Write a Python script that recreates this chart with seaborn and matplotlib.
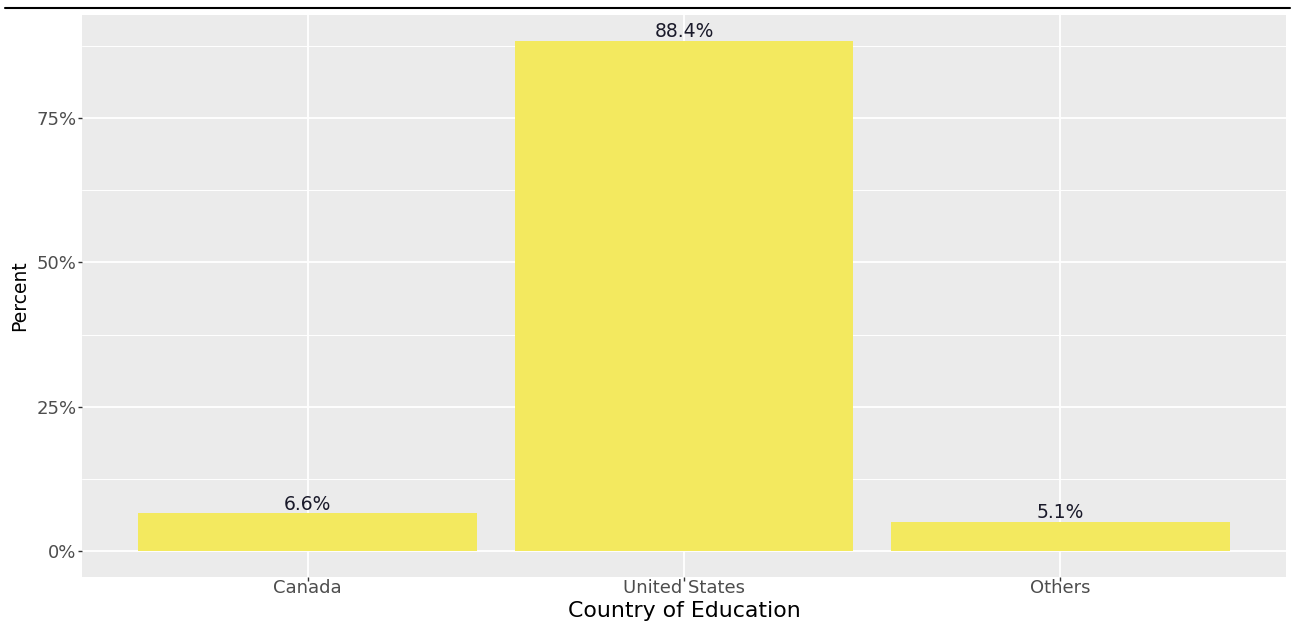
import matplotlib
matplotlib.use("Agg")
import matplotlib.pyplot as plt
import seaborn as sns
import pandas as pd
from matplotlib.lines import Line2D
from matplotlib.ticker import FixedLocator

categories = ["Canada", "United States", "Others"]
percents = [6.6, 88.4, 5.1]
labels = ["6.6%", "88.4%", "5.1%"]
yticks = [0, 25, 50, 75]
ytick_labels = ["0%", "25%", "50%", "75%"]
minor_yticks = [12.5, 37.5, 62.5, 87.5]

df = pd.DataFrame({"country": categories, "pct": percents})

sns.set_theme(style="darkgrid")
plt.rcParams['font.family'] = ['DejaVu Sans']

fig = plt.figure(figsize=(12.93, 6.25), dpi=100)
W, H = 1293, 625
ax = fig.add_axes([82 / W, 1 - 577 / H, (1286 - 82) / W, (577 - 15) / H])
ax.set_facecolor("#EBEBEB")

sns.barplot(data=df, x="country", y="pct", order=categories, color="#F3E95F",
            saturation=1, width=0.9, linewidth=0, edgecolor="none", ax=ax, zorder=2)

ymax = max(percents)
ax.set_ylim(-0.05 * ymax, ymax * 1.05)
ax.set_xlim(-0.6, len(categories) - 1 + 0.6)

ax.yaxis.set_major_locator(FixedLocator(yticks))
ax.set_yticklabels(ytick_labels)
ax.yaxis.set_minor_locator(FixedLocator(minor_yticks))
ax.grid(which="major", color="white", linewidth=1.3, zorder=0)
ax.grid(which="minor", axis="y", color="white", linewidth=0.7, zorder=0)
ax.set_axisbelow(True)
for s in ax.spines.values():
    s.set_visible(False)

ax.tick_params(axis="both", which="major", length=3, width=1, color="#333333",
               labelsize=13, labelcolor="#4D4D4D", direction="out")
ax.tick_params(axis="x", which="major", pad=-1.5, bottom=True)
ax.tick_params(axis="y", which="major", pad=1, left=True)
ax.tick_params(axis="both", which="minor", length=0)

for i, (v, t) in enumerate(zip(percents, labels)):
    ax.text(i, v - 0.05, t, ha="center", va="bottom", fontsize=13.5, color="#1A1A2A", zorder=3)

ax.set_xlabel("Country of Education", fontsize=15.8, color="black", labelpad=2.5)
ax.set_ylabel("Percent", fontsize=13.5, color="black", labelpad=5)

fig.add_artist(Line2D([5 / W, 1290 / W], [1 - 8 / H, 1 - 8 / H], color="black", linewidth=1.5))

fig.savefig("out.png", dpi=100)
